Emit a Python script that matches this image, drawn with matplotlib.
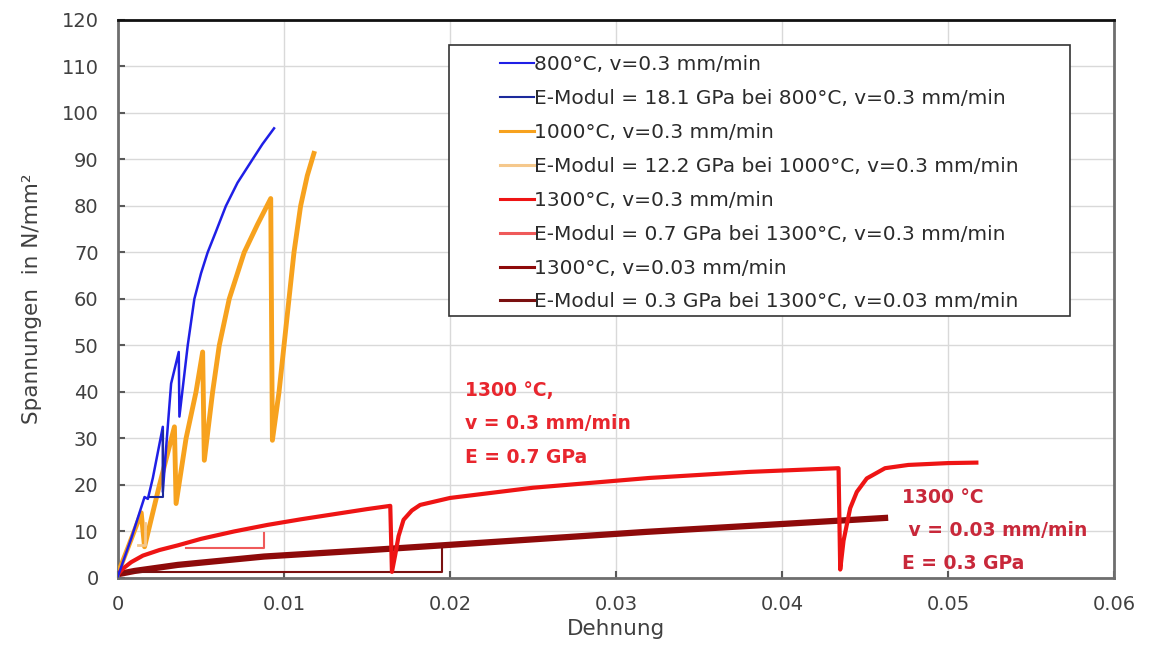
import matplotlib
matplotlib.use("Agg")
import matplotlib.pyplot as plt
from matplotlib.patches import Rectangle

# --- data (strain [-], stress [N/mm^2]) ---
blue_eps = [0, 0.0008, 0.0016, 0.0018, 0.0021, 0.0027, 0.0027, 0.0029, 0.0032, 0.00366,
            0.0037, 0.0042, 0.0046, 0.0050, 0.0054, 0.0059, 0.0065, 0.0072, 0.0081,
            0.0087, 0.0094]
blue_sig = [0.4, 8.5, 17.4, 17.0, 21.5, 32.5, 18.5, 28.0, 41.8, 48.6,
            34.7, 50.0, 60.0, 65.5, 70.0, 74.5, 80.0, 85.0, 90.0,
            93.3, 96.7]

orange_eps = [0, 0.0006, 0.0014, 0.0016, 0.0025, 0.0034, 0.0035, 0.0041, 0.0047, 0.0051,
              0.0052, 0.0057, 0.0061, 0.0067, 0.0076, 0.0084, 0.0092, 0.0093, 0.0097,
              0.0100, 0.0103, 0.0106, 0.0110, 0.0114, 0.0118]
orange_sig = [1.0, 6.5, 14.0, 6.7, 20.0, 32.5, 16.0, 30.0, 40.0, 48.6,
              25.3, 40.0, 50.0, 60.0, 70.0, 76.0, 81.6, 29.6, 40.0,
              50.0, 60.0, 70.0, 80.0, 86.5, 91.3]

red_eps = [0, 0.0003, 0.0008, 0.0015, 0.0025, 0.0036, 0.005, 0.007, 0.009, 0.011, 0.013,
           0.015, 0.0164, 0.0165, 0.0167, 0.0169, 0.0172, 0.0177, 0.0182, 0.020, 0.025,
           0.032, 0.038, 0.0434, 0.0435, 0.0437, 0.0441, 0.0445, 0.0451, 0.0462, 0.0476,
           0.050, 0.0517]
red_sig = [0.8, 2.0, 3.4, 4.8, 6.0, 7.0, 8.4, 10.0, 11.4, 12.6, 13.7,
           14.8, 15.5, 1.3, 5.0, 9.0, 12.5, 14.5, 15.7, 17.2, 19.4,
           21.5, 22.8, 23.6, 1.8, 8.0, 15.0, 18.5, 21.4, 23.6, 24.3,
           24.7, 24.8]

dark_eps = [0, 0.001, 0.0036, 0.0088, 0.0152, 0.0212, 0.0318, 0.040, 0.0462]
dark_sig = [0.8, 1.5, 2.8, 4.6, 6.0, 7.4, 9.9, 11.6, 12.9]

# slope triangles (E-Modul)
e_blue_eps, e_blue_sig = [0.0019, 0.0027, 0.0027], [17.5, 17.5, 31.5]
e_orange_eps, e_orange_sig = [0.0012, 0.0016, 0.0016], [7.0, 7.0, 11.9]
e_red_eps, e_red_sig = [0.0041, 0.0088, 0.0088], [6.5, 6.5, 9.7]
e_dark_eps, e_dark_sig = [0.0002, 0.0195, 0.0195], [1.3, 1.3, 6.2]

labels = [
    "800°C, v=0.3 mm/min",
    "E-Modul = 18.1 GPa bei 800°C, v=0.3 mm/min",
    "1000°C, v=0.3 mm/min",
    "E-Modul = 12.2 GPa bei 1000°C, v=0.3 mm/min",
    "1300°C, v=0.3 mm/min",
    "E-Modul = 0.7 GPa bei 1300°C, v=0.3 mm/min",
    "1300°C, v=0.03 mm/min",
    "E-Modul = 0.3 GPa bei 1300°C, v=0.03 mm/min",
]
note1 = ["1300 °C,", "v = 0.3 mm/min", "E = 0.7 GPa"]
note2 = ["1300 °C", " v = 0.03 mm/min", "E = 0.3 GPa"]

plt.rcParams['font.family'] = ['DejaVu Sans']

fig = plt.figure(figsize=(11.51, 6.45), dpi=100)
ax = fig.add_axes([0.1025, 0.104, 0.8655, 0.865])

l1, = ax.plot(blue_eps, blue_sig, color='#1f1fe6', lw=1.8, zorder=4)
l2, = ax.plot(e_blue_eps, e_blue_sig, color='#1c2a9c', lw=1.5, zorder=4)
l3, = ax.plot(orange_eps, orange_sig, color='#f7a21e', lw=3.5, zorder=3)
l4, = ax.plot(e_orange_eps, e_orange_sig, color='#f5c88c', lw=2, zorder=3)
l5, = ax.plot(red_eps, red_sig, color='#ee1414', lw=3, zorder=3)
l6, = ax.plot(e_red_eps, e_red_sig, color='#ef5a5a', lw=1.5, zorder=3)
l7, = ax.plot(dark_eps, dark_sig, color='#8e0a0a', lw=4.5, zorder=2)
l8, = ax.plot(e_dark_eps, e_dark_sig, color='#7a1010', lw=1.5, zorder=2)

ax.set_xlim(0, 0.06)
ax.set_ylim(0, 120)
ax.set_xticks([0, 0.01, 0.02, 0.03, 0.04, 0.05, 0.06])
ax.set_xticklabels(["0", "0.01", "0.02", "0.03", "0.04", "0.05", "0.06"])
ax.set_yticks(range(0, 121, 10))
ax.grid(True, color='#d9d9d9', lw=1)
ax.set_axisbelow(True)
ax.tick_params(direction='in', length=5, width=1.5, colors='#595959',
               labelcolor='#404040', labelsize=14)
ax.tick_params(axis='x', pad=12)
ax.tick_params(axis='y', pad=14)

for s in ['left', 'bottom', 'right']:
    ax.spines[s].set_color('#6e6e6e')
    ax.spines[s].set_linewidth(2)
ax.spines['top'].set_color('#111111')
ax.spines['top'].set_linewidth(2)

ax.set_xlabel("Dehnung", fontsize=15.5, color='#404040', labelpad=4)
ax.set_ylabel("Spannungen  in N/mm²", fontsize=15.5, color='#404040', labelpad=14)

# legend box drawn by hand so the padding matches
box = Rectangle((0.332, 0.47), 0.624, 0.485, transform=ax.transAxes,
                facecolor='white', edgecolor='#333333', lw=1.2, zorder=5)
ax.add_patch(box)
leg = ax.legend([l1, l2, l3, l4, l5, l6, l7, l8], labels, loc='upper left',
                bbox_to_anchor=(0.378, 0.946), frameon=False, fontsize=14.5,
                handlelength=1.7, handletextpad=0.0, labelspacing=0.74,
                borderaxespad=0, borderpad=0.25)
leg.set_zorder(6)
for h in leg.get_lines():
    h.set_linewidth(2.2)
leg.get_lines()[0].set_linewidth(1.5)
leg.get_lines()[1].set_linewidth(1.5)
for t in leg.get_texts():
    t.set_color('#2b2b2b')

note_font = dict(family='DejaVu Sans', fontweight='bold', fontsize=13.5)
for txt, y in zip(note1, [40.4, 33.3, 26.0]):
    ax.text(0.0209, y, txt, color='#e8262e', va='center', ha='left', zorder=7, **note_font)
for txt, y in zip(note2, [17.2, 10.3, 3.2]):
    ax.text(0.0472, y, txt, color='#c8283a', va='center', ha='left', zorder=7, **note_font)

fig.savefig("out.png", dpi=100)
